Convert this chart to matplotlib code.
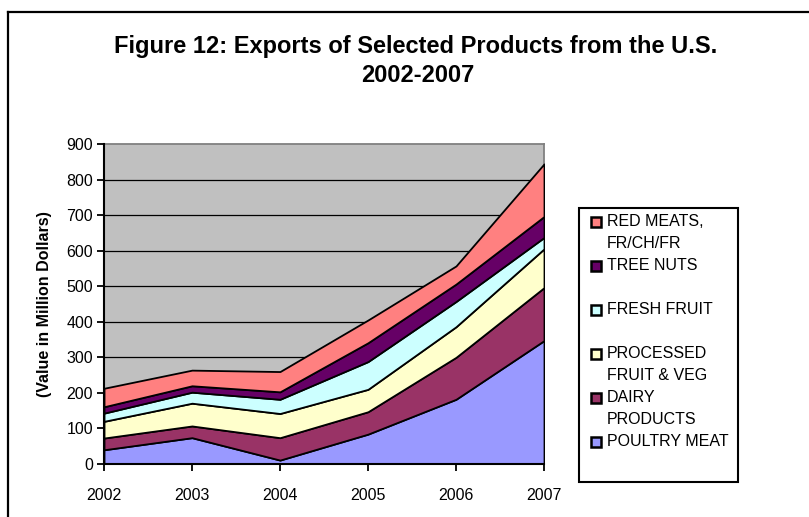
import matplotlib
matplotlib.use("Agg")
import matplotlib.pyplot as plt
from matplotlib.patches import Rectangle
from matplotlib.lines import Line2D

plt.rcParams['font.family'] = ['Liberation Sans', 'DejaVu Sans']

years = ['2002', '2003', '2004', '2005', '2006', '2007']
series_names = ['POULTRY MEAT', 'DAIRY\nPRODUCTS', 'PROCESSED\nFRUIT & VEG',
                'FRESH FRUIT', 'TREE NUTS', 'RED MEATS,\nFR/CH/FR']
poultry = [40, 74, 11, 84, 182, 347]
dairy = [33, 33, 63, 63, 118, 149]
processed = [47, 64, 68, 63, 86, 109]
fresh_fruit = [23, 31, 40, 78, 71, 32]
tree_nuts = [18, 18, 21, 53, 49, 59]
red_meats = [52, 44, 57, 64, 51, 148]
colors = ['#9999FF', '#993366', '#FFFFCC', '#CCFFFF', '#660066', '#FF8080']
yticks = [0, 100, 200, 300, 400, 500, 600, 700, 800, 900]

W, H = 809, 517
fig = plt.figure(figsize=(W / 100, H / 100), dpi=100)

def fx(px):
    return px / W

def fy(py):
    return 1 - py / H

# outer frame (top and left visible)
fig.add_artist(Line2D([fx(8), 1.01], [fy(12), fy(12)], color='black', lw=1.6,
                      transform=fig.transFigure))
fig.add_artist(Line2D([fx(8), fx(8)], [fy(12), -0.01], color='black', lw=1.6,
                      transform=fig.transFigure))

ax = fig.add_axes([fx(104), fy(464), (544 - 104) / W, (464 - 144) / H])
ax.set_facecolor('#C0C0C0')
x = list(range(len(years)))
ax.stackplot(x, poultry, dairy, processed, fresh_fruit, tree_nuts, red_meats,
             colors=colors, edgecolor='black', linewidth=1.3, zorder=3)
ax.set_xlim(0, len(years) - 1)
ax.set_ylim(0, 900)
ax.set_yticks(yticks)
ax.set_yticklabels([str(v) for v in yticks], fontsize=11.5)
ax.set_xticks(x)
ax.set_xticklabels(years, fontsize=11.5)
for yv in yticks[1:-1]:
    ax.axhline(yv, color='black', lw=0.9, zorder=1)
ax.tick_params(axis='both', direction='out', length=5, width=1.3, color='black')
ax.tick_params(axis='x', pad=12)
ax.tick_params(axis='y', pad=3)
ax.spines['left'].set_linewidth(1.5)
ax.spines['bottom'].set_linewidth(1.5)
ax.spines['left'].set_zorder(5)
ax.spines['bottom'].set_zorder(5)
ax.spines['top'].set_color('#808080')
ax.spines['right'].set_color('#808080')
ax.spines['top'].set_linewidth(1.3)
ax.spines['right'].set_linewidth(1.3)
ax.set_ylabel('(Value in Million Dollars)', fontsize=11.5, fontweight='bold', labelpad=10)

fig.text(fx(416), fy(46), 'Figure 12: Exports of Selected Products from the U.S.',
         ha='center', va='center', fontsize=17, fontweight='bold')
fig.text(fx(418), fy(75), '2002-2007', ha='center', va='center',
         fontsize=17, fontweight='bold')

# legend box
fig.add_artist(Rectangle((fx(579), fy(482)), (738 - 579) / W, (482 - 208) / H,
                         transform=fig.transFigure, facecolor='white',
                         edgecolor='black', lw=1.5))
order = list(range(len(series_names)))[::-1]
for i, idx in enumerate(order):
    y0 = 222 + 44 * i
    fig.add_artist(Rectangle((fx(591), fy(y0 + 5)), 10 / W, 10 / H,
                             transform=fig.transFigure, facecolor=colors[idx],
                             edgecolor='black', lw=1.8))
    for j, line in enumerate(series_names[idx].split('\n')):
        fig.text(fx(607), fy(y0 + 22 * j), line, ha='left', va='center',
                 fontsize=11.5)

fig.savefig('out.png', dpi=100)
